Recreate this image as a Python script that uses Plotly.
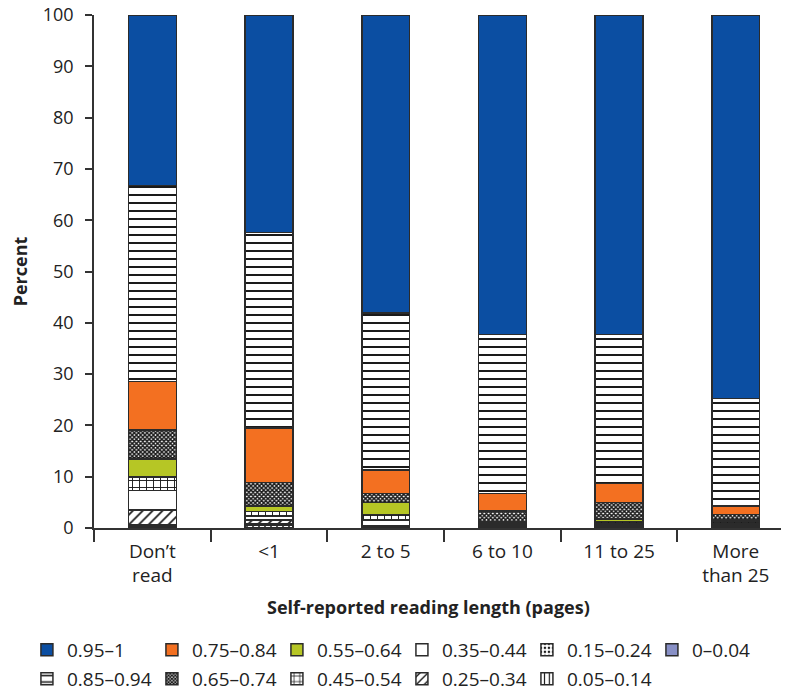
import plotly.graph_objects as go

categories = ["Don’t<br>read", "<1", "2 to 5", "6 to 10", "11 to 25", "More<br>than 25"]

# stacked bottom -> top
v_000_004 = [0.0, 0.0, 0.0, 0.0, 0.0, 0.0]
v_005_014 = [0.4, 0.5, 0.2, 0.2, 0.2, 0.2]
v_015_024 = [0.3, 0.3, 0.2, 0.1, 0.2, 0.2]
v_025_034 = [2.8, 0.8, 0.1, 0.15, 0.1, 0.1]
v_035_044 = [3.8, 0.6, 1.1, 0.2, 0.3, 0.3]
v_045_054 = [2.6, 1.0, 1.0, 0.3, 0.5, 0.5]
v_055_064 = [3.6, 1.1, 2.4, 0.35, 0.5, 0.3]
v_065_074 = [5.6, 4.6, 1.7, 2.0, 3.2, 1.0]
v_075_084 = [9.5, 10.6, 4.6, 3.4, 3.7, 1.7]
v_085_094 = [38.2, 38.1, 30.6, 31.0, 29.0, 20.9]
v_095_1 = [33.2, 42.4, 58.1, 62.3, 62.3, 74.8]

series = [
    ("0–0.04", v_000_004, "#8890c6", "", "legend"),
    ("0.05–0.14", v_005_014, "white", "|", "legend2"),
    ("0.15–0.24", v_015_024, "white", ".", "legend"),
    ("0.25–0.34", v_025_034, "white", "/", "legend2"),
    ("0.35–0.44", v_035_044, "white", "", "legend"),
    ("0.45–0.54", v_045_054, "white", "+", "legend2"),
    ("0.55–0.64", v_055_064, "#b6c625", "", "legend"),
    ("0.65–0.74", v_065_074, "white", "x", "legend2"),
    ("0.75–0.84", v_075_084, "#f37021", "", "legend"),
    ("0.85–0.94", v_085_094, "white", "-", "legend2"),
    ("0.95–1", v_095_1, "#0b4ea2", "", "legend"),
]

pattern_size = {"|": 6, ".": 5, "/": 7, "+": 7, "x": 3, "-": 8, "": 8}
pattern_sol = {"|": 0.25, ".": 0.3, "/": 0.25, "+": 0.25, "x": 0.75, "-": 0.25, "": 0.3}

fig = go.Figure()
for name, vals, color, shape, leg in series:
    fig.add_trace(go.Bar(
        x=categories, y=vals, name=name, width=0.41,
        marker=dict(
            color=color,
            line=dict(color="#2b2b2b", width=1.5),
            pattern=dict(shape=shape, fgcolor="#1a1a1a", bgcolor="white" if color == "white" else None,
                         size=pattern_size[shape], solidity=pattern_sol[shape], fillmode="replace"),
        ),
        legend=leg,
    ))

font_family = "Open Sans"
txt = "#222"
legend_common = dict(
    orientation="h", xanchor="left", yanchor="middle", traceorder="reversed",
    font=dict(family=font_family, size=19, color=txt),
    entrywidth=80, itemwidth=30, bgcolor="rgba(0,0,0,0)",
)

# page body adds an 8px offset, so the figure is drawn 8px smaller
fig.update_layout(
    barmode="stack",
    width=781, height=683,
    margin=dict(l=86, r=0, t=7, b=163, autoexpand=False),
    paper_bgcolor="white", plot_bgcolor="white",
    font=dict(family=font_family, size=19, color=txt),
    showlegend=True,
    legend=dict(x=-0.0965, y=-0.2378, **legend_common),
    legend2=dict(x=-0.0965, y=-0.2943, **legend_common),
    xaxis=dict(
        range=[-0.5, 5.456], showline=True, linecolor="#333", linewidth=1.5,
        ticks="outside", tickson="boundaries", ticklen=12, tickcolor="#333", tickwidth=1.5,
        ticklabelstandoff=5,
        tickfont=dict(family=font_family, size=19, color=txt),
        showgrid=False, zeroline=False, automargin=False,
    ),
    yaxis=dict(
        range=[0, 100], dtick=10, showline=True, linecolor="#333", linewidth=1.5,
        ticks="outside", ticklen=7, tickcolor="#333", tickwidth=1.5,
        ticklabelstandoff=8, automargin=False, ticklabeloverflow="allow",
        tickfont=dict(family=font_family, size=18, color=txt),
        showgrid=False, zeroline=False,
        title=dict(text="<b>Percent</b>", font=dict(family=font_family, size=18, color=txt), standoff=23),
    ),
    annotations=[dict(
        text="<b>Self-reported reading length (pages)</b>", xref="paper", yref="paper",
        x=0.4806, y=-0.154, xanchor="center", yanchor="middle", showarrow=False,
        font=dict(family=font_family, size=18, color=txt),
    )],
)

fig.write_html("out.html")
